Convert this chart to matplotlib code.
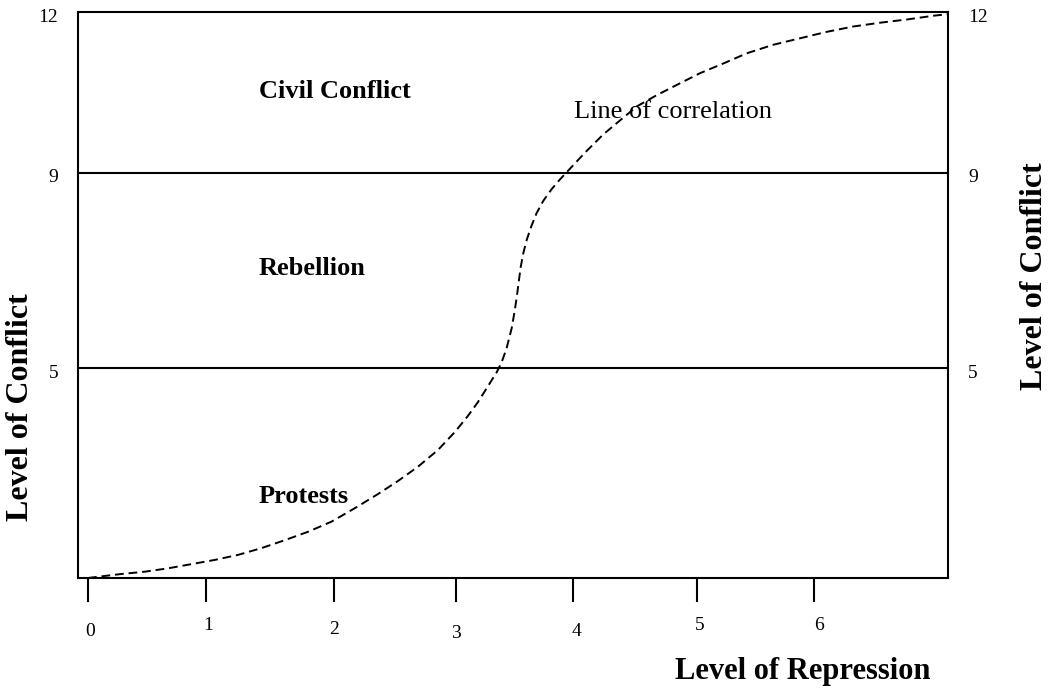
import numpy as np
import matplotlib
matplotlib.use('Agg')
import matplotlib.pyplot as plt

plt.rcParams['font.family'] = ['Liberation Serif', 'DejaVu Serif']

# repression axis: tick positions (data units) and their labels
x_ticks = [0, 0.975, 2.033, 3.041, 4.008, 5.033, 6.0]
x_tick_labels = ['0', '1', '2', '3', '4', '5', '6']
x_label_pos = [0.017, 0.992, 2.033, 3.041, 4.041, 5.058, 6.041]

# conflict axis: the figure spaces the levels unevenly
level_marks = [0, 5, 9, 12]
level_height = [0, 210, 405, 566]
y_tick_labels = ['5', '9', '12']
thresholds = [5, 9]

# dashed line of correlation
curve_x = [0, 0.083, 0.275, 0.469, 0.661, 0.854, 1.047, 1.240, 1.432, 1.626,
           1.818, 2.011, 2.204, 2.397, 2.562, 2.727, 2.893, 3.033, 3.140, 3.223,
           3.306, 3.378, 3.419, 3.460, 3.502, 3.529, 3.548, 3.562, 3.576, 3.598,
           3.626, 3.661, 3.708, 3.763, 3.832, 3.901, 3.967, 4.041, 4.121, 4.259,
           4.397, 4.535, 4.700, 4.865, 5.058, 5.250, 5.444, 5.664, 5.884, 6.105,
           6.325, 6.545, 6.766, 6.986, 7.107]
curve_y = [0, 0.03, 0.095, 0.15, 0.23, 0.33, 0.43, 0.55, 0.71, 0.90,
           1.10, 1.34, 1.66, 2.00, 2.31, 2.65, 3.05, 3.48, 3.86, 4.19,
           4.57, 4.90, 5.12, 5.41, 5.82, 6.21, 6.54, 6.81, 7.07, 7.36,
           7.63, 7.89, 8.18, 8.43, 8.67, 8.87, 9.04, 9.22, 9.41, 9.72,
           9.98, 10.24, 10.45, 10.64, 10.86, 11.04, 11.23, 11.39, 11.51, 11.63,
           11.73, 11.80, 11.86, 11.93, 11.96]

regions = ['Civil Conflict', 'Rebellion', 'Protests']
region_y = [10.51, 7.05, 1.93]
region_x = 1.41


def fwd(y):
    return np.interp(y, level_marks, level_height)


def inv(h):
    return np.interp(h, level_height, level_marks)


fig = plt.figure(figsize=(10.52, 6.92), dpi=100)
ax = fig.add_axes([78 / 1052, 1 - 578 / 692, 870 / 1052, 566 / 692])
ax.set_yscale('function', functions=(fwd, inv))
ax.set_xlim(-10 / 121, 860 / 121)
ax.set_ylim(0, 12)

for s in ax.spines.values():
    s.set_linewidth(1.5)

for t in thresholds:
    ax.axhline(t, color='black', lw=1.5)

ax.plot(curve_x, curve_y, color='black', lw=1.4, linestyle=(0, (4.5, 2.5)),
        solid_joinstyle='round')

# ticks: only the bottom has marks, labels drawn by hand (they wobble in the original)
ax.set_xticks(x_ticks)
ax.set_xticklabels([])
ax.tick_params(axis='x', length=17.3, width=1.5, direction='out')
ax.yaxis.set_minor_locator(matplotlib.ticker.NullLocator())
ax.yaxis.set_major_locator(matplotlib.ticker.NullLocator())

label_drop = [54, 47, 51, 56, 54, 48, 48]  # px below the axis
for xp, lab, d in zip(x_label_pos, x_tick_labels, label_drop):
    ax.annotate(lab, xy=(xp, 0), xycoords=('data', 'axes fraction'),
                xytext=(0, -d * 0.72), textcoords='offset points',
                ha='center', va='center', fontsize=14)

for lev, lab in zip([5, 9, 12], y_tick_labels):
    ax.annotate(lab, xy=(0, lev), xycoords=('axes fraction', 'data'),
                xytext=(-14.4, -3.6), textcoords='offset points',
                ha='right', va='center', fontsize=14, annotation_clip=False)
    ax.annotate(lab, xy=(1, lev), xycoords=('axes fraction', 'data'),
                xytext=(14.4, -3.6), textcoords='offset points',
                ha='left', va='center', fontsize=14, annotation_clip=False)

for name, yy in zip(regions, region_y):
    ax.text(region_x, yy, name, fontsize=19, fontweight='bold',
            ha='left', va='center')

ax.text(4.02, 10.14, 'Line of correlation', fontsize=19, ha='left', va='center')

fig.text(803 / 1052, 1 - 672 / 692, 'Level of Repression', fontsize=22,
         fontweight='bold', ha='center', va='center')
fig.text(21 / 1052, 1 - 407 / 692, 'Level of Conflict', fontsize=23,
         fontweight='bold', ha='center', va='center', rotation=90)
fig.text(1035 / 1052, 1 - 276 / 692, 'Level of Conflict', fontsize=23,
         fontweight='bold', ha='center', va='center', rotation=90)

fig.savefig('out.png', dpi=100)
